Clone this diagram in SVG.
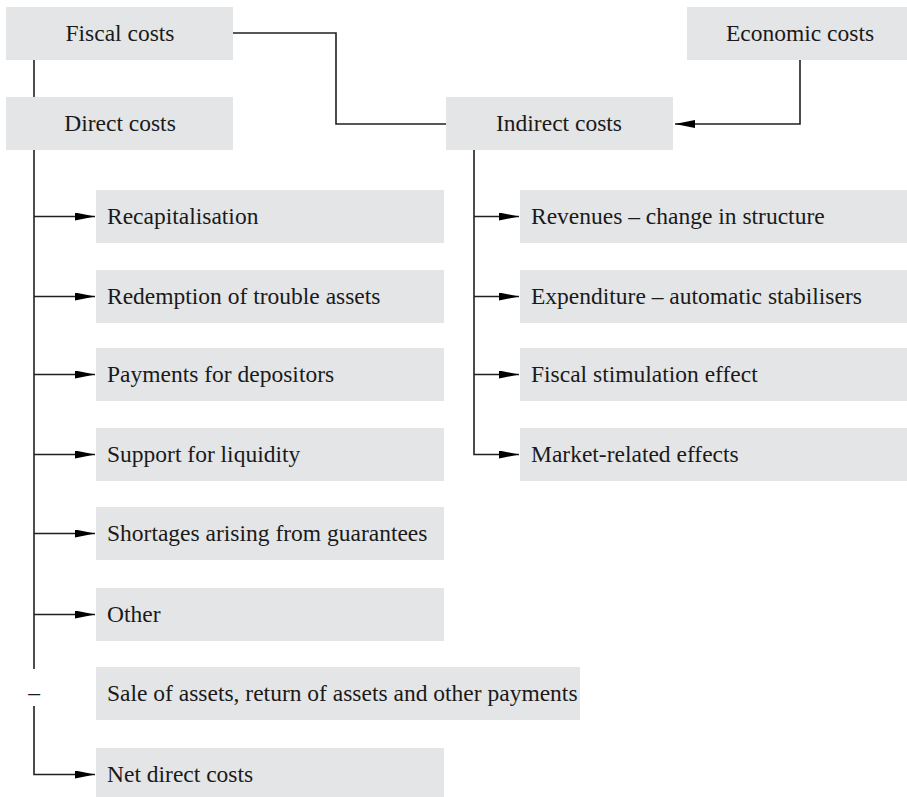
<svg xmlns="http://www.w3.org/2000/svg" width="907" height="797" viewBox="0 0 907 797">
<style>
.box{fill:#e4e5e7;}
.t{font-family:'Liberation Serif','DejaVu Serif','Times New Roman',serif;font-size:23.5px;fill:#1a1a1a;}
.c{text-anchor:middle;}
.ln{fill:none;stroke:#231f20;stroke-width:1.6;}
</style>
<defs>
<marker id="ah" markerUnits="userSpaceOnUse" markerWidth="20" markerHeight="8" refX="20" refY="4" orient="auto" viewBox="0 0 20 8">
<path d="M0,0 L20,4 L0,8 z" fill="#000"/>
</marker>
</defs>
<rect width="907" height="797" fill="#fff"/>
<g font-family="Liberation Serif, DejaVu Serif, serif">
<g id="fiscal"><rect class="box" x="6" y="7" width="227" height="53"/><text class="t c" x="120" y="41">Fiscal costs</text></g>
<g id="economic"><rect class="box" x="687" y="7" width="220" height="53"/><text class="t c" x="800" y="41">Economic costs</text></g>
<g id="direct"><rect class="box" x="6" y="97" width="227" height="53"/><text class="t c" x="120" y="131">Direct costs</text></g>
<g id="indirect"><rect class="box" x="446" y="97" width="227" height="53"/><text class="t c" x="559" y="131">Indirect costs</text></g>
<g id="recap"><rect class="box" x="96" y="190" width="348" height="53"/><text class="t" x="107" y="224">Recapitalisation</text></g>
<g id="redemption"><rect class="box" x="96" y="270" width="348" height="53"/><text class="t" x="107" y="304">Redemption of trouble assets</text></g>
<g id="payments"><rect class="box" x="96" y="348" width="348" height="53"/><text class="t" x="107" y="382">Payments for depositors</text></g>
<g id="support"><rect class="box" x="96" y="428" width="348" height="53"/><text class="t" x="107" y="462">Support for liquidity</text></g>
<g id="shortages"><rect class="box" x="96" y="507" width="348" height="53"/><text class="t" x="107" y="541">Shortages arising from guarantees</text></g>
<g id="other"><rect class="box" x="96" y="588" width="348" height="53"/><text class="t" x="107" y="622">Other</text></g>
<g id="sale"><rect class="box" x="96" y="667" width="484" height="53"/><text class="t" x="107" y="701">Sale of assets, return of assets and other payments</text></g>
<g id="minus"><text class="t c" x="34" y="700">–</text></g>
<g id="net"><rect class="box" x="96" y="748" width="348" height="53"/><text class="t" x="107" y="782">Net direct costs</text></g>
<g id="revenues"><rect class="box" x="520" y="190" width="387" height="53"/><text class="t" x="531" y="224">Revenues – change in structure</text></g>
<g id="expenditure"><rect class="box" x="520" y="270" width="387" height="53"/><text class="t" x="531" y="304">Expenditure – automatic stabilisers</text></g>
<g id="stimulation"><rect class="box" x="520" y="348" width="387" height="53"/><text class="t" x="531" y="382">Fiscal stimulation effect</text></g>
<g id="market"><rect class="box" x="520" y="428" width="387" height="53"/><text class="t" x="531" y="462">Market-related effects</text></g>
</g>
<g id="connectors">
<path class="ln" d="M233,33 H336 V124 H446"/>
<path class="ln" d="M800,60 V124 H675" marker-end="url(#ah)"/>
<path class="ln" d="M34,60 V97"/>
<path class="ln" d="M34,150 V669"/>
<path class="ln" d="M34,216.5 H95" marker-end="url(#ah)"/>
<path class="ln" d="M34,296.5 H95" marker-end="url(#ah)"/>
<path class="ln" d="M34,374.5 H95" marker-end="url(#ah)"/>
<path class="ln" d="M34,454.5 H95" marker-end="url(#ah)"/>
<path class="ln" d="M34,533.5 H95" marker-end="url(#ah)"/>
<path class="ln" d="M34,614.5 H95" marker-end="url(#ah)"/>
<path class="ln" d="M34,706 V774.5 H95" marker-end="url(#ah)"/>
<path class="ln" d="M474,150 V454.5 H519" marker-end="url(#ah)"/>
<path class="ln" d="M474,216.5 H519" marker-end="url(#ah)"/>
<path class="ln" d="M474,296.5 H519" marker-end="url(#ah)"/>
<path class="ln" d="M474,374.5 H519" marker-end="url(#ah)"/>
</g>
</svg>
